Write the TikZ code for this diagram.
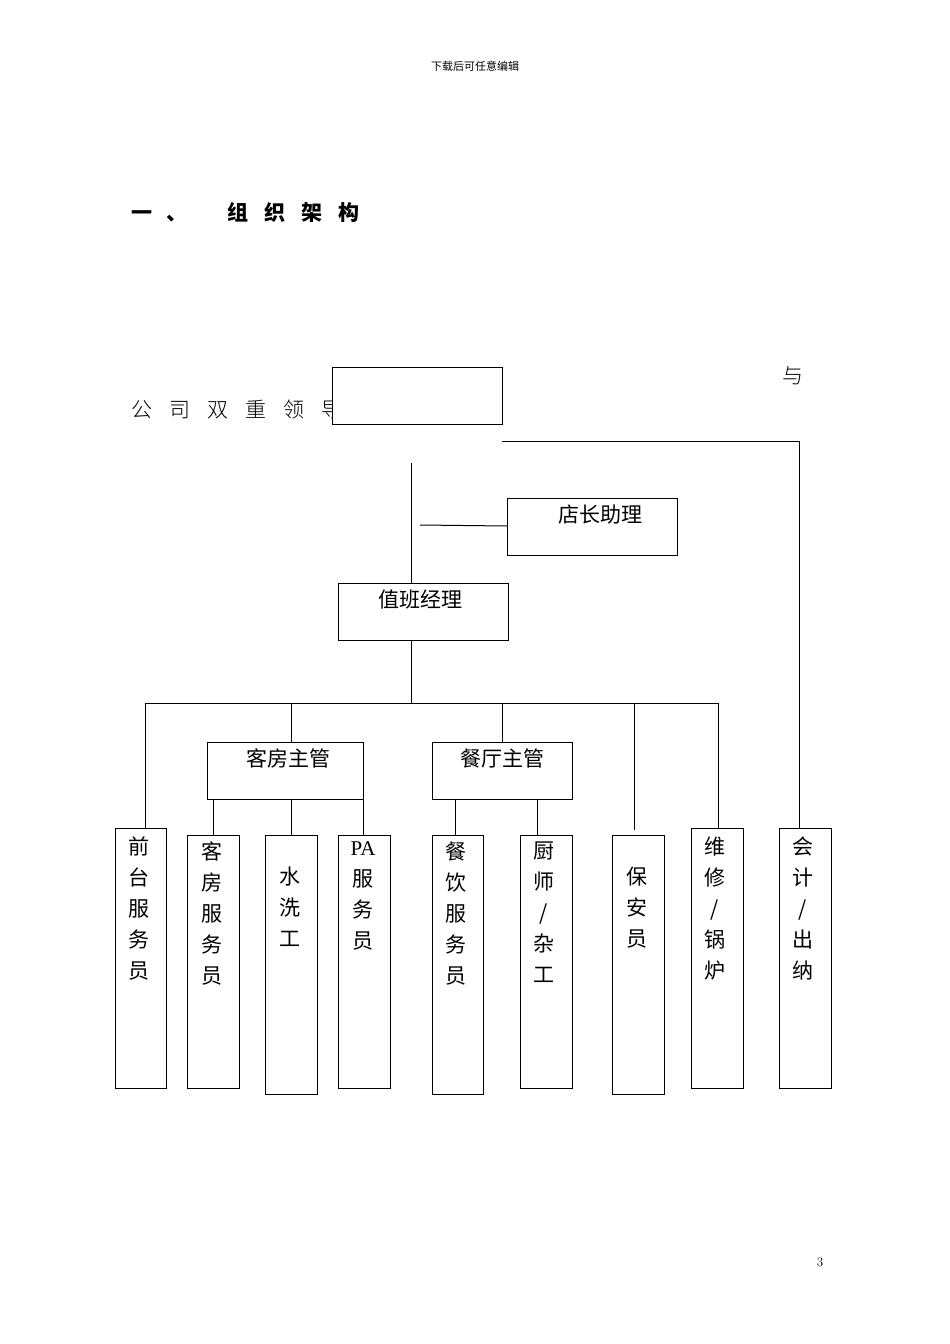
\documentclass[tikz,border=0pt]{standalone}
\usepackage{fontspec}
\newfontfamily\cjk{Noto Sans CJK SC}
\newfontfamily\cjklight{Noto Sans CJK SC Light}
\begin{document}
\begin{tikzpicture}[x=1pt,y=-1pt,line width=1pt,
  bx/.style={draw,fill=white},
  vt/.style={anchor=north,align=center,font=\cjk\fontsize{21}{31}\selectfont,inner sep=0pt},
  ht/.style={anchor=north,font=\cjk\fontsize{21}{25}\selectfont,inner sep=0pt}]
\useasboundingbox (0,0) rectangle (950,1344);
\node[font=\cjk\fontsize{11}{13}\selectfont] (hdr) at (475,66) {下载后可任意编辑};
\node[anchor=west,font=\cjk\bfseries\fontsize{21}{25}\selectfont] (ttl) at (128,212) {一\hspace{14pt}、\hspace{40pt}组\hspace{16pt}织\hspace{16pt}架\hspace{16pt}构};
\node[anchor=west,font=\cjklight\fontsize{21}{25}\selectfont] (lead) at (128,410) {公\hspace{17pt}司\hspace{17pt}双\hspace{17pt}重\hspace{17pt}领\hspace{17pt}导};
\node[font=\cjklight\fontsize{21}{25}\selectfont] (yu) at (793,376) {与};
\node[font=\fontsize{13}{15}\selectfont] (pg) at (820,1262) {3};
% lines
\draw (411,463) -- (411,583);
\draw (411,640) -- (411,703);
\draw (420,525) -- (507,526);
\draw (502,441) -- (799,441) -- (799,828);
\draw (145,703) -- (718,703);
\draw (145,703) -- (145,828);
\draw (291,703) -- (291,742);
\draw (502,703) -- (502,742);
\draw (634,703) -- (634,830);
\draw (718,703) -- (718,828);
\draw (213,799) -- (213,835);
\draw (291,799) -- (291,835);
\draw (363,799) -- (363,835);
\draw (455,799) -- (455,835);
\draw (537,799) -- (537,835);
% boxes
\draw[bx] (332,367) rectangle (502,424);
\draw[bx] (507,498) rectangle (677,555); \node[ht] (zz) at (600,504) {店长助理};
\draw[bx] (338,583) rectangle (508,640); \node[ht] (zb) at (420,589) {值班经理};
\draw[bx] (207,742) rectangle (363,799); \node[ht] (kf) at (288,748) {客房主管};
\draw[bx] (432,742) rectangle (572,799); \node[ht] (ct) at (502,748) {餐厅主管};
\draw[bx] (115,828) rectangle (166,1088); \node[vt] at (139,836) {前\\台\\服\\务\\员};
\draw[bx] (187,835) rectangle (239,1088); \node[vt] at (212,841) {客\\房\\服\\务\\员};
\draw[bx] (265,835) rectangle (317,1094); \node[vt] at (290,866) {水\\洗\\工};
\draw[bx] (338,835) rectangle (390,1088); \node[vt] at (363,841) {{\fontspec{Liberation Serif}PA}\\服\\务\\员};
\draw[bx] (432,835) rectangle (483,1094); \node[vt] at (456,841) {餐\\饮\\服\\务\\员};
\draw[bx] (520,835) rectangle (572,1088); \node[vt] at (544,841) {厨\\师\\/\\杂\\工};
\draw[bx] (612,835) rectangle (664,1094); \node[vt] at (637,866) {保\\安\\员};
\draw[bx] (691,828) rectangle (743,1088); \node[vt] at (715,836) {维\\修\\/\\锅\\炉};
\draw[bx] (779,828) rectangle (831,1088); \node[vt] at (803,836) {会\\计\\/\\出\\纳};
\end{tikzpicture}
\end{document}
